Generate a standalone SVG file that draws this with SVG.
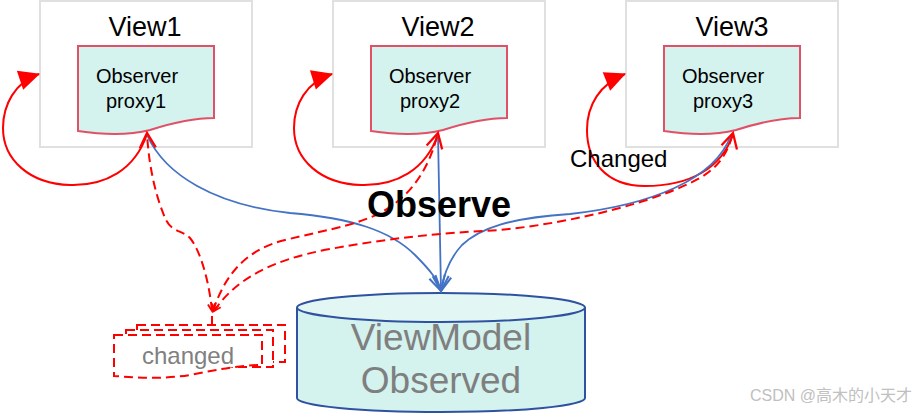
<svg xmlns="http://www.w3.org/2000/svg" width="923" height="414" viewBox="0 0 923 414">
<style>
.view{fill:#fff;stroke:#e0e0e0;stroke-width:2}
.doc{fill:#d4f2ee;stroke:#e05066;stroke-width:2}
.vt{font-family:"Liberation Sans",Arial,sans-serif;font-size:27px;fill:#000;text-anchor:middle}
.pt{font-family:"Liberation Sans",Arial,sans-serif;font-size:20px;fill:#000;text-anchor:middle}
.red{fill:none;stroke:#ff0000;stroke-width:2}
.dash{fill:none;stroke:#ff0000;stroke-width:2;stroke-dasharray:9 5}
.blue{fill:none;stroke:#4472c4;stroke-width:1.8}
.mdoc{fill:#fff;stroke:#ff0000;stroke-width:2;stroke-dasharray:9 5}
.cyl{fill:#d4f2ee;stroke:#2f52a0;stroke-width:2}
.cylt{fill:#e2f6f4;stroke:#2f52a0;stroke-width:2}
.ct{font-family:"Liberation Sans",Arial,sans-serif;font-size:37px;fill:#7f7f7f;text-anchor:middle}
</style>
<defs>
<marker id="tri" markerUnits="userSpaceOnUse" markerWidth="22" markerHeight="20" viewBox="0 0 20 19" refX="19" refY="9.5" orient="auto" overflow="visible">
<path d="M0,0 L20,9.5 L0,19 z" fill="#ff0000"/>
</marker>
<marker id="openRed" markerUnits="userSpaceOnUse" markerWidth="16" markerHeight="16" viewBox="0 0 14 14" refX="13" refY="7" orient="auto" overflow="visible">
<path d="M0,0 L13,7 L0,14" fill="none" stroke="#ff0000" stroke-width="2"/>
</marker>
<marker id="openRedS" markerUnits="userSpaceOnUse" markerWidth="8" markerHeight="8" viewBox="0 0 7 7" refX="6" refY="3.5" orient="auto-start-reverse" overflow="visible">
<path d="M0,0.5 L6,3.5 L0,6.5" fill="none" stroke="#ff0000" stroke-width="1.6"/>
</marker>
<marker id="openBlue" markerUnits="userSpaceOnUse" markerWidth="16" markerHeight="16" viewBox="0 0 14 14" refX="13" refY="7" orient="auto" overflow="visible">
<path d="M0,0 L13,7 L0,14" fill="none" stroke="#4472c4" stroke-width="1.8"/>
</marker>
<path id="docShape" d="M78,46 H214 V118 C195,118 175,122 150,130 C130,135 105,135 78,131 Z"/>
</defs>

<g id="view1">
<rect class="view" x="40" y="1" width="212" height="146"/>
<text class="vt" x="145" y="36">View1</text>
</g>
<g id="view2">
<rect class="view" x="333" y="1" width="212" height="146"/>
<text class="vt" x="438" y="36">View2</text>
</g>
<g id="view3">
<rect class="view" x="626" y="1" width="212" height="146"/>
<text class="vt" x="732" y="36">View3</text>
</g>

<g id="proxy1">
<use href="#docShape" class="doc"/>
<text class="pt" x="137" y="83">Observer</text>
<text class="pt" x="136" y="108">proxy1</text>
</g>
<g id="proxy2">
<use href="#docShape" class="doc" transform="translate(293,0)"/>
<text class="pt" x="430" y="83">Observer</text>
<text class="pt" x="430" y="108">proxy2</text>
</g>
<g id="proxy3">
<use href="#docShape" class="doc" transform="translate(586,0)"/>
<text class="pt" x="723" y="83">Observer</text>
<text class="pt" x="723" y="108">proxy3</text>
</g>

<g id="changedDocs">
<rect class="mdoc" x="137" y="325" width="148" height="37"/>
<rect class="mdoc" x="126" y="330" width="147" height="37"/>
<path class="mdoc" d="M114,335 H262 V365 C240,365 215,370 190,375 C165,379 140,378 114,376 Z"/>
<text x="188" y="364" font-family="Liberation Sans, Arial, sans-serif" font-size="24" fill="#808080" text-anchor="middle">changed</text>
</g>

<g id="viewModel">
<path class="cyl" d="M297,307.5 V398 A144,14 0 0 0 585,398 V307.5"/>
<ellipse class="cylt" cx="441" cy="307.5" rx="144" ry="14.5"/>
<text class="ct" x="441" y="350">ViewModel</text>
<text class="ct" x="441" y="393">Observed</text>
</g>

<g id="connectors">
<path class="red" marker-end="url(#tri)" d="M147,134 C135,170 105,186 70,185 C30,184 3,160 3,128 C3,105 15,82 39,74"/>
<path class="red" marker-end="url(#tri)" d="M438,134 C426,170 396,186 361,185 C321,184 294,160 294,128 C294,105 306,82 332,74"/>
<path class="red" marker-end="url(#tri)" d="M733,134 C722,168 690,186 645,186 C605,186 587,160 587,130 C587,105 600,84 625,74"/>

<path class="blue" marker-end="url(#openBlue)" d="M147,135 C165,175 215,205 290,213 C350,218 390,230 415,255 C430,270 438,280 441,291"/>
<path class="blue" marker-end="url(#openBlue)" d="M438,135 L441,291"/>
<path class="blue" marker-end="url(#openBlue)" d="M731,135 C715,180 650,205 570,214 C510,218 480,228 462,245 C450,258 444,272 441,291"/>

<path class="dash" marker-start="url(#openRedS)" marker-end="url(#openRed)" d="M212,311 C209,280 200,250 190,238 C182,230 172,232 166,220 C157,200 149,170 147,133"/>
<path class="dash" marker-start="url(#openRedS)" marker-end="url(#openRed)" d="M213,311 C225,275 245,250 285,240 C330,229 365,224 390,207 C415,190 430,165 438,133"/>
<path class="dash" marker-start="url(#openRedS)" marker-end="url(#openRed)" d="M214,311 C235,280 270,260 330,249 C390,238 440,233 500,230 C580,222 660,200 700,178 C720,166 728,152 733,133"/>
<path class="red" d="M212,316 V325"/>
</g>

<text x="367" y="217" font-family="Liberation Sans, Arial, sans-serif" font-size="36" font-weight="bold" fill="#000">Observe</text>
<text x="570" y="167" font-family="Liberation Sans, Arial, sans-serif" font-size="24" fill="#000">Changed</text>
<text x="750" y="401" font-family="Liberation Sans, Arial, 'Noto Sans CJK SC', sans-serif" font-size="16" fill="#c0c0c0">CSDN @高木的小天才</text>
</svg>
